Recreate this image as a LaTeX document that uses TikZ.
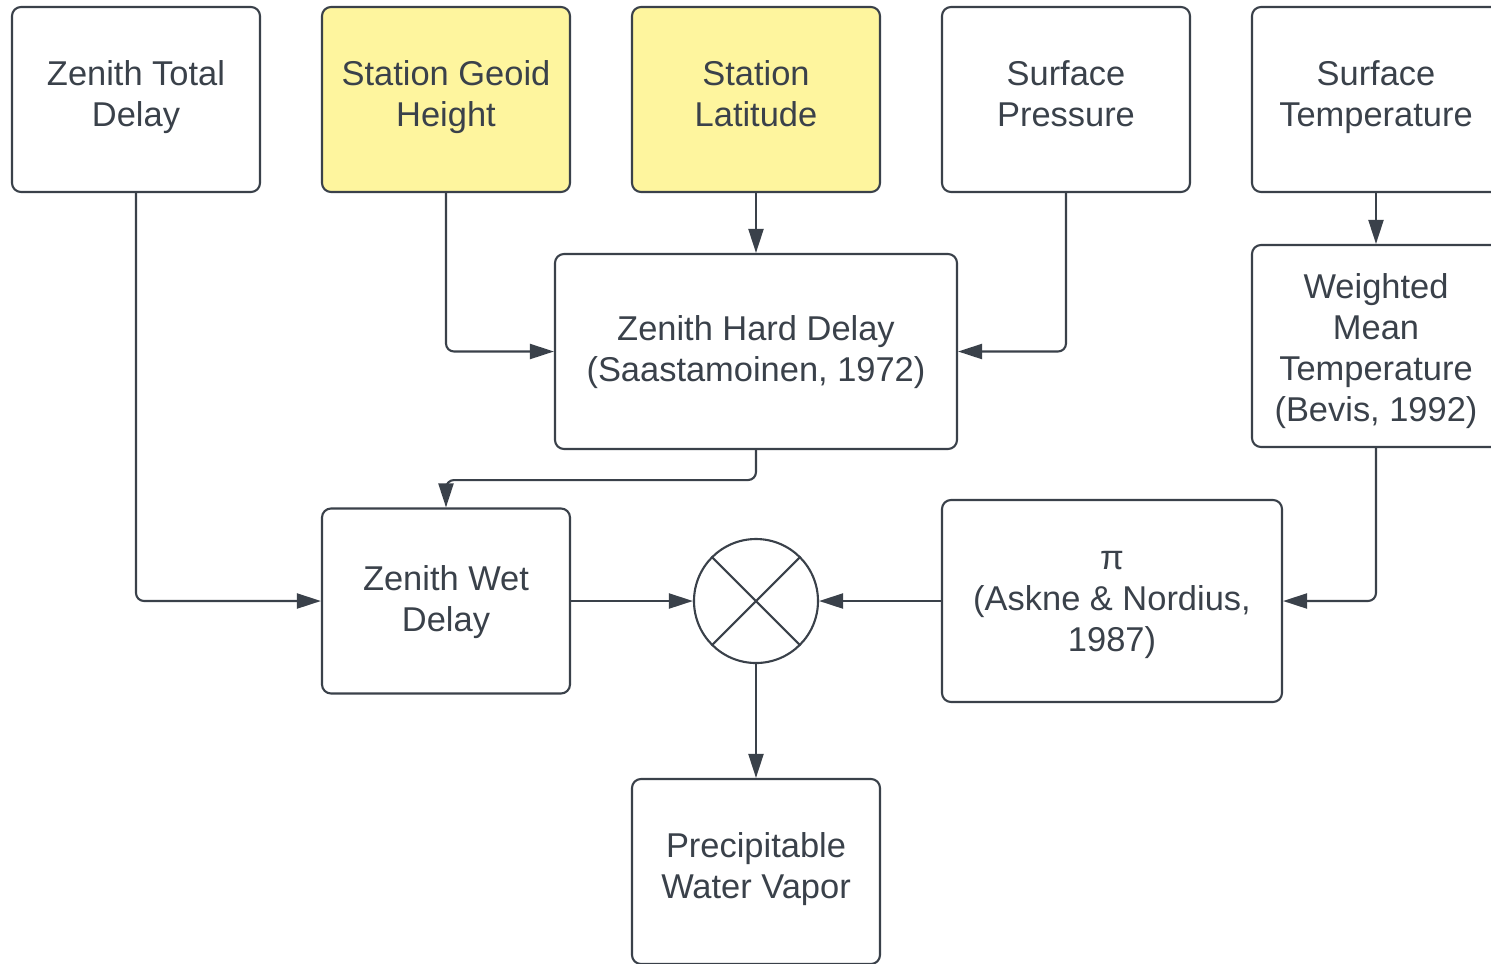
\documentclass[tikz,border=0pt]{standalone}
\usepackage{fontspec}
\setmainfont{Liberation Sans}
\usetikzlibrary{arrows.meta}
\definecolor{inkgray}{HTML}{3A414A}
\definecolor{noteyellow}{HTML}{FEF59E}
\newcommand{\topgap}[1]{\rule{0pt}{#1}}
\begin{document}
\begin{tikzpicture}[
  line width=0.6pt,
  box/.style={draw=inkgray, rounded corners=0.09cm, align=center, text=inkgray,
    font=\fontsize{9.8}{11.7}\selectfont, minimum width=2.48cm, minimum height=1.85cm, inner sep=0pt,
    execute at begin node=\strut, execute at end node=\strut},
  input/.style={box, fill=noteyellow},
  mixer/.style={draw=inkgray, circle, minimum size=1.24cm, inner sep=0pt},
  arr/.style={draw=inkgray, rounded corners=0.08cm, -{Triangle[length=2.4mm, width=1.5mm]}}
]
\useasboundingbox (0,0) rectangle (14.91,-9.63);
\clip (0,0) rectangle (14.91,-9.63);
\node[box] (ztd) at (1.36,-0.995) {Zenith Total\\Delay};
\node[input] (geoid) at (4.46,-0.995) {Station Geoid\\Height};
\node[input] (lat) at (7.56,-0.995) {Station\\Latitude};
\node[box] (pres) at (10.66,-0.995) {Surface\\Pressure};
\node[box] (temp) at (13.76,-0.995) {Surface\\Temperature};
\node[box, minimum width=4.02cm, minimum height=1.95cm] (zhd) at (7.56,-3.515) {\topgap{9pt}Zenith Hard Delay\\(Saastamoinen, 1972)};
\node[box, minimum height=2.02cm] (wmt) at (13.76,-3.46) {\topgap{11.6pt}Weighted\\Mean\\Temperature\\(Bevis, 1992)};
\node[box] (zwd) at (4.46,-6.01) {\topgap{9pt}Zenith Wet\\Delay};
\node[mixer] (mult) at (7.56,-6.01) {};
\draw[inkgray] (mult.45) -- (mult.225) (mult.135) -- (mult.315);
\node[box, minimum width=3.40cm, minimum height=2.02cm] (pi) at (11.12,-6.01) {\topgap{9pt}π\\(Askne \& Nordius,\\1987)};
\node[box] (pwv) at (7.56,-8.715) {Precipitable\\Water Vapor};
\draw[arr] (ztd.south) |- (zwd.west);
\draw[arr] (geoid.south) |- (zhd.west);
\draw[arr] (lat) -- (zhd);
\draw[arr] (pres.south) |- (zhd.east);
\draw[arr] (temp) -- (wmt);
\draw[arr] (zhd.south) -- ++(0,-0.3) -| (zwd.north);
\draw[arr] (zwd) -- (mult);
\draw[arr] (pi) -- (mult);
\draw[arr] (wmt.south) |- (pi.east);
\draw[arr] (mult) -- (pwv);
\end{tikzpicture}
\end{document}
